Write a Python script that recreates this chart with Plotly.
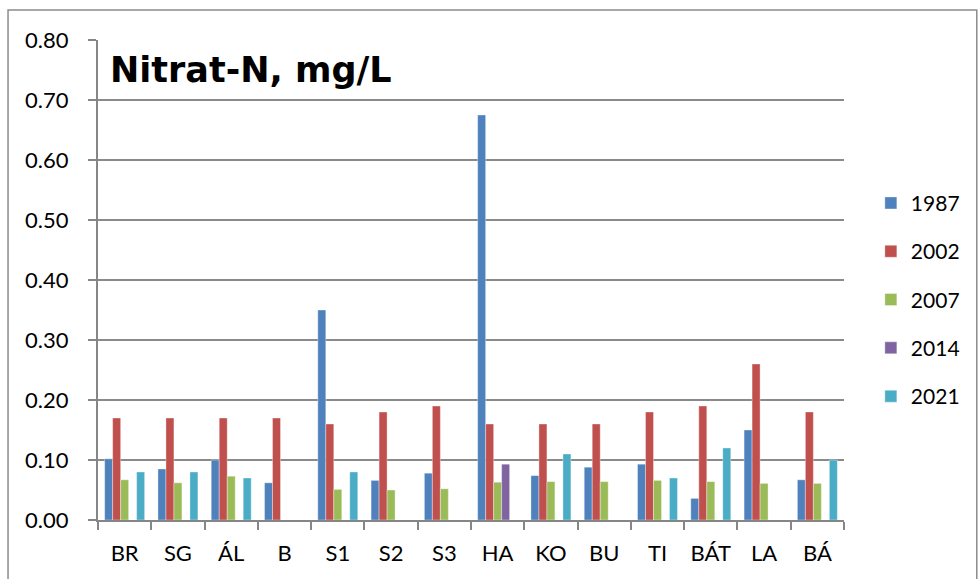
import plotly.graph_objects as go

categories = ["BR", "SG", "ÁL", "B", "S1", "S2", "S3", "HA", "KO", "BU", "TI", "BÁT", "LA", "BÁ"]
years = ["1987", "2002", "2007", "2014", "2021"]
v1987 = [0.102, 0.085, 0.100, 0.062, 0.350, 0.066, 0.078, 0.675, 0.074, 0.088, 0.093, 0.036, 0.150, 0.067]
v2002 = [0.17, 0.17, 0.17, 0.17, 0.16, 0.18, 0.19, 0.16, 0.16, 0.16, 0.18, 0.19, 0.26, 0.18]
v2007 = [0.067, 0.062, 0.073, None, 0.051, 0.050, 0.052, 0.063, 0.064, 0.064, 0.066, 0.064, 0.061, 0.061]
v2014 = [None, None, None, None, None, None, None, 0.093, None, None, None, None, None, None]
v2021 = [0.080, 0.080, 0.070, None, 0.080, None, None, None, 0.110, None, 0.070, 0.120, None, 0.100]
series = [v1987, v2002, v2007, v2014, v2021]
colors = ["#4F81BD", "#C0504D", "#9BBB59", "#8064A2", "#4BACC6"]

FONT = "Lato"
fig = go.Figure()
for name, vals, col in zip(years, series, colors):
    fig.add_trace(go.Bar(
        x=categories, y=vals, name=name, legendgroup=name,
        marker=dict(color=col, line=dict(width=0.6, color="rgba(255,255,255,0.6)")),
    ))

fig.update_layout(
    width=978, height=579,
    margin=dict(l=98, r=134, t=40, b=59),
    paper_bgcolor="white", plot_bgcolor="white",
    barmode="group", bargap=0.25, bargroupgap=0,
    font=dict(family=FONT, size=21, color="black"),
    showlegend=True,
    legend=dict(x=1.036, y=0.7025, xanchor="left", yanchor="top",
                font=dict(family=FONT, size=21, color="black"),
                tracegroupgap=18, itemwidth=30, bgcolor="rgba(0,0,0,0)"),
    xaxis=dict(
        showline=True, linecolor="#868686", linewidth=2,
        ticks="outside", tickson="boundaries", ticklen=8, tickcolor="#868686", tickwidth=2,
        showgrid=False, tickfont=dict(family=FONT, size=22, color="black"),
        ticklabelstandoff=13,
    ),
    yaxis=dict(
        range=[0, 0.8], dtick=0.1, tickformat=".2f",
        showline=True, linecolor="#868686", linewidth=2,
        ticks="outside", ticklen=8, tickcolor="#868686", tickwidth=2,
        showgrid=True, gridcolor="#8a8a8a", gridwidth=2,
        zeroline=False, tickfont=dict(family=FONT, size=22, color="black"),
        ticklabelstandoff=15,
    ),
    annotations=[dict(
        text="<b>Nitrat-N, mg/L</b>", xref="paper", yref="paper",
        x=0.014, y=0.9375, xanchor="left", yanchor="middle", showarrow=False,
        font=dict(family="DejaVu Sans", size=35, color="black"),
    )],
    shapes=[dict(
        type="rect", xref="paper", yref="paper",
        x0=-0.1206, x1=1.178, y0=-0.14, y1=1.0625,
        line=dict(color="#8c8c8c", width=1.5), fillcolor="rgba(0,0,0,0)", layer="below",
    )],
)

fig.write_html("out.html")
